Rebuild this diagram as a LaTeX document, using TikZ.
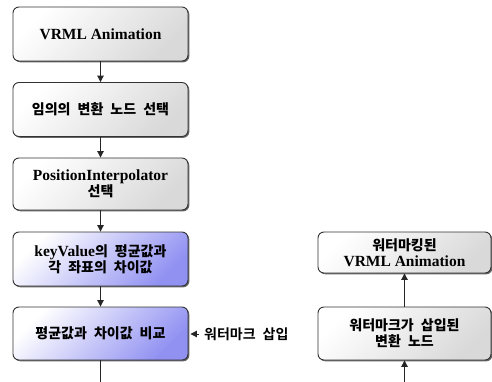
\documentclass[tikz,border=0pt]{standalone}
\usepackage{fontspec}
\setmainfont{Liberation Serif}
\newfontfamily\krf{Noto Sans CJK KR Bold}[WordSpace=2.2]
\newcommand{\K}[1]{{\krf\fontsize{14}{17}\selectfont #1}}
\usetikzlibrary{shadows,arrows.meta}
\tikzset{
  boxbase/.style={draw=black!80, line width=0.9pt, rounded corners=6pt,
    minimum width=175pt, minimum height=54pt, align=center,
    inner sep=2pt,
    font=\fontsize{15.5}{17}\selectfont\bfseries,
    drop shadow={shadow xshift=1.3pt, shadow yshift=-1.3pt, fill=black!60, opacity=1}},
  graybox/.style={boxbase, top color=white, bottom color=black!15, shading angle=45},
  bluebox/.style={boxbase, top color=white, bottom color=blue!40!white!95!black, shading angle=45},
  conn/.style={line width=1pt, draw=black!85},
  arr/.style={conn, -{Triangle[length=6.5pt,width=6.5pt]}},
}
\begin{document}
\begin{tikzpicture}[x=1pt,y=-1pt]
\useasboundingbox (0,0) rectangle (492,382);
\node[graybox] (b1) at (100.5,34) {VRML Animation};
\node[graybox] (b2) at (100.5,109.5) {\K{임의의 변환 노드 선택}};
\node[graybox, minimum height=52pt] (b3) at (100.5,184) {PositionInterpolator\\[-1pt]\K{선택}};
\node[bluebox] (b4) at (100.5,259) {keyValue\K{의 평균값과}\\[-1pt]\K{각 좌표의 차이값}};
\node[bluebox, minimum height=53pt] (b5) at (100.5,333.5) {\K{평균값과 차이값 비교}};
\node[anchor=west, inner xsep=5pt, inner ysep=2pt] (wm) at (199,334) {\K{워터마크 삽입}};
\node[graybox, minimum width=173pt, minimum height=41pt] (r1) at (404.5,252.5) {\K{워터마킹된}\\[-1pt]VRML Animation};
\node[graybox, minimum width=173pt, minimum height=53pt] (r2) at (404.5,333.5) {\K{워터마크가 삽입된}\\[-1pt]\K{변환 노드}};
\coordinate (c1) at (100.5,382);
\coordinate (c2) at (404.5,382);
\draw[arr] (b1) -- (b2);
\draw[arr] (b2) -- (b3);
\draw[arr] (b3) -- (b4);
\draw[arr] (b4) -- (b5);
\draw[conn] (b5.south) -- (c1);
\draw[arr, shorten >=2pt] (wm.west) -- (b5.east |- wm.west);
\draw[arr] (c2) -- (r2.south);
\draw[arr] (r2) -- (r1);
\end{tikzpicture}
\end{document}
